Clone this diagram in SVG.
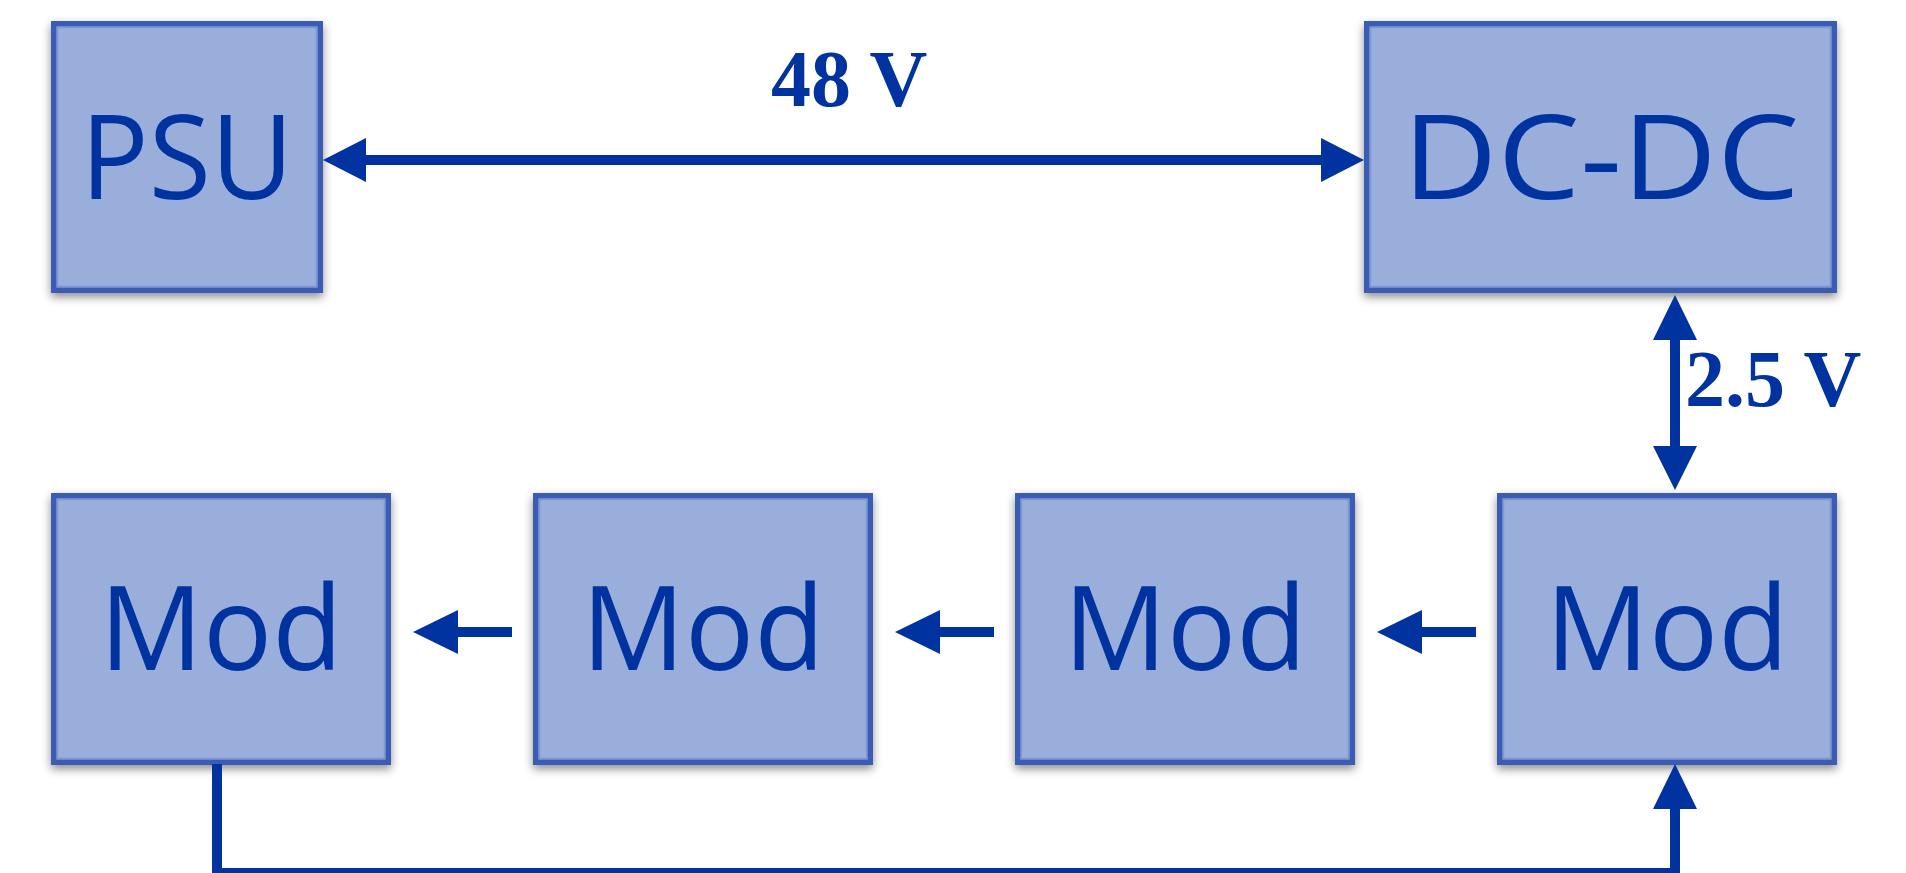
<svg xmlns="http://www.w3.org/2000/svg" width="1906" height="873" viewBox="0 0 1906 873">
<defs>
<style>
.box{fill:#9aaedb;stroke:#3a5cb4;stroke-width:5.5}
.inner{fill:none;stroke:#7d97d3;stroke-width:1.5}
.lbl{font-family:"Open Sans","Liberation Sans",sans-serif;font-weight:400;font-size:118px;fill:#0033a0;text-anchor:middle}
.v{font-family:"Liberation Serif","Times New Roman",serif;font-weight:bold;font-size:80px;fill:#0033a0}
.ln{stroke:#0033a0;stroke-width:10;fill:none}
.hd{fill:#0033a0}
</style>
<filter id="sh" x="-10%" y="-10%" width="120%" height="125%">
<feDropShadow dx="0" dy="4" stdDeviation="5" flood-color="#000" flood-opacity="0.45"/>
</filter>
</defs>
<rect width="1906" height="873" fill="#ffffff"/>
<g id="psu">
<rect class="box" x="53.75" y="23.75" width="266.5" height="266.5" filter="url(#sh)"/>
<rect class="inner" x="57.5" y="27.5" width="259" height="259"/>
<text class="lbl" x="187" y="199" textLength="213" lengthAdjust="spacingAndGlyphs">PSU</text>
</g>
<g id="dcdc">
<rect class="box" x="1366.75" y="23.75" width="467.5" height="266.5" filter="url(#sh)"/>
<rect class="inner" x="1370.5" y="27.5" width="460" height="259"/>
<text class="lbl" x="1601" y="199" textLength="397" lengthAdjust="spacingAndGlyphs">DC-DC</text>
</g>
<g id="mod1">
<rect class="box" x="53.75" y="495.75" width="334.5" height="266.5" filter="url(#sh)"/>
<rect class="inner" x="57.5" y="499.5" width="327" height="259"/>
<text class="lbl" x="221" y="670" textLength="243" lengthAdjust="spacingAndGlyphs">Mod</text>
</g>
<g id="mod2">
<rect class="box" x="535.75" y="495.75" width="334.5" height="266.5" filter="url(#sh)"/>
<rect class="inner" x="539.5" y="499.5" width="327" height="259"/>
<text class="lbl" x="703" y="670" textLength="243" lengthAdjust="spacingAndGlyphs">Mod</text>
</g>
<g id="mod3">
<rect class="box" x="1017.75" y="495.75" width="334.5" height="266.5" filter="url(#sh)"/>
<rect class="inner" x="1021.5" y="499.5" width="327" height="259"/>
<text class="lbl" x="1185" y="670" textLength="243" lengthAdjust="spacingAndGlyphs">Mod</text>
</g>
<g id="mod4">
<rect class="box" x="1499.75" y="495.75" width="334.5" height="266.5" filter="url(#sh)"/>
<rect class="inner" x="1503.5" y="499.5" width="327" height="259"/>
<text class="lbl" x="1667" y="670" textLength="243" lengthAdjust="spacingAndGlyphs">Mod</text>
</g>
<g id="connectors">
<line class="ln" x1="360" y1="160" x2="1326" y2="160"/>
<polygon class="hd" points="323,160 366,138 366,182"/>
<polygon class="hd" points="1364,160 1321,138 1321,182"/>
<text class="v" x="771" y="106">48 V</text>
<line class="ln" x1="1675" y1="335" x2="1675" y2="452"/>
<polygon class="hd" points="1675,295 1653,340 1697,340"/>
<polygon class="hd" points="1675,490 1653,446 1697,446"/>
<text class="v" x="1685" y="406">2.5 V</text>
<line class="ln" x1="452" y1="632" x2="512" y2="632"/>
<polygon class="hd" points="413,632 458,610 458,654"/>
<line class="ln" x1="934" y1="632" x2="994" y2="632"/>
<polygon class="hd" points="895,632 940,610 940,654"/>
<line class="ln" x1="1416" y1="632" x2="1476" y2="632"/>
<polygon class="hd" points="1377,632 1422,610 1422,654"/>
<polyline class="ln" points="217,764 217,873 1675,873 1675,804"/>
<polygon class="hd" points="1675,764 1653,809 1697,809"/>
</g>
</svg>
